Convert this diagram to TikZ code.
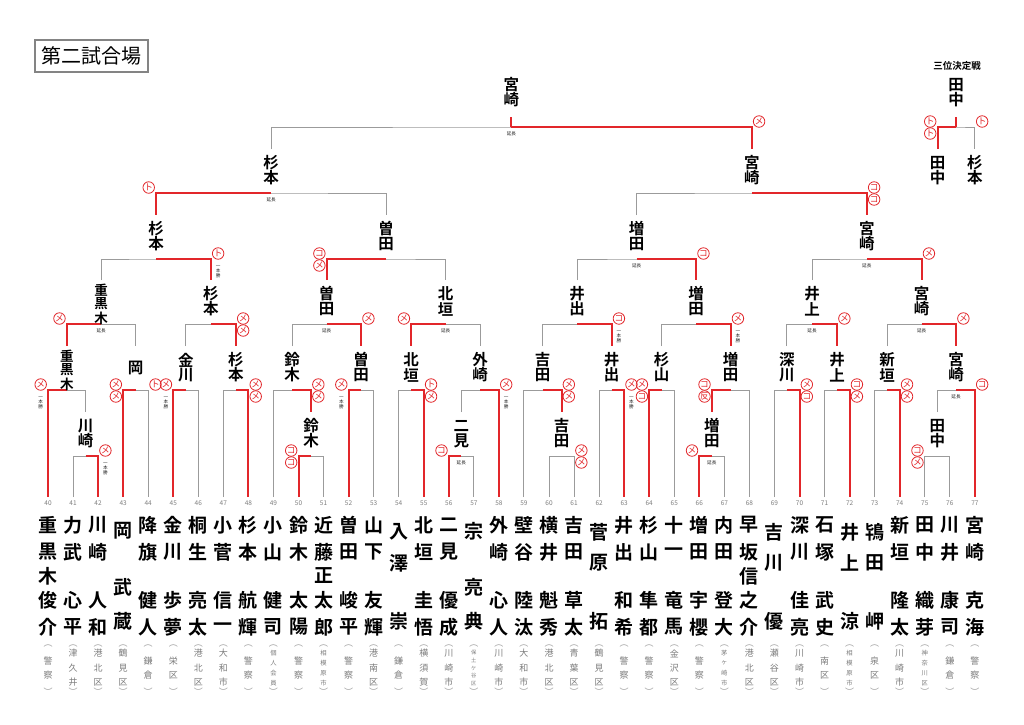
\documentclass[tikz,border=0pt]{standalone}
\usepackage{fontspec}
\newfontfamily\jp[BoldFont={Noto Sans CJK JP Bold}]{Noto Sans CJK JP}
\usetikzlibrary{calc}
\definecolor{rd}{RGB}{226,38,42}
\definecolor{lg}{RGB}{155,155,155}
\definecolor{tg}{RGB}{125,125,125}
\newcommand\setX[2]{\expandafter\xdef\csname vX#1\endcsname{#2}}
\newcommand\getX[1]{\csname vX#1\endcsname}
\newcommand\setT[2]{\expandafter\xdef\csname vT#1\endcsname{#2}}
\newcommand\getT[1]{\csname vT#1\endcsname}
\newcommand\setH[2]{\expandafter\xdef\csname vH#1\endcsname{#2}}
\newcommand\getH[1]{\csname vH#1\endcsname}
\tikzset{
 gline/.style={draw=lg, line width=1pt},
 rline/.style={draw=rd, line width=2pt},
 mk/.style={circle, draw=rd, line width=0.8pt, inner sep=0pt, minimum size=11.5pt, text=rd, font=\jp\fontsize{8.6}{8.6}\selectfont},
 bname/.style={inner sep=0pt, font=\jp\bfseries\fontsize{15.5}{15.5}\selectfont},
 bnamet/.style={inner sep=0pt, font=\jp\bfseries\fontsize{13.5}{13.5}\selectfont},
 lname/.style={inner sep=0pt, font=\jp\bfseries\fontsize{19}{19}\selectfont},
 num/.style={inner sep=0pt, text=tg, font=\jp\fontsize{6.5}{6.5}\selectfont},
 tinyt/.style={inner sep=0pt, text=black!85, font=\jp\fontsize{4.6}{4.6}\selectfont},
 affp/.style={inner sep=0pt, text=lg, font=\jp\fontsize{9}{9}\selectfont},
}
% match: id, left child, right child, y of horizontal, winner side
\newcommand\M[5]{%
  \pgfmathsetmacro\mmC{(\getX{#2}+\getX{#3})/2}%
  \pgfmathsetmacro\mmT{#4-44}%
  \setX{#1}{\mmC}\setH{#1}{#4}\setT{#1}{\mmT}%
  \coordinate (#1) at (\mmC,#4);
  \coordinate (top-#1) at (\mmC,\mmT);
  \draw[gline] (top-#2) |- (#1) -| (top-#3);
  \if L#5\draw[rline] (#1) -| (top-#2);\fi
  \if R#5\draw[rline] (#1) -| (top-#3);\fi
}
\newcommand\bnI[2]{\node[bname] (w#1a) at (\getX{#1},{\getH{#1}-22}) {#2};}
\newcommand\bnII[3]{\node[bname] (w#1a) at (\getX{#1},{\getH{#1}-30}) {#2};
  \node[bname] (w#1b) at (\getX{#1},{\getH{#1}-15}) {#3};}
\newcommand\bnIII[4]{\node[bnamet] (w#1a) at (\getX{#1},{\getH{#1}-34}) {#2};
  \node[bnamet] (w#1b) at (\getX{#1},{\getH{#1}-20}) {#3};
  \node[bnamet] (w#1c) at (\getX{#1},{\getH{#1}-6}) {#4};}
\newcommand\mkA[4]{\node[mk] at ({\getX{#2}+(#3)*7.3},{\getH{#1}-5.5}) {#4};}
\newcommand\mkB[5]{\node[mk] at ({\getX{#2}+(#3)*7.3},{\getH{#1}-5.5}) {#4};
  \node[mk] at ({\getX{#2}+(#3)*7.3},{\getH{#1}+6.5}) {#5};}
\newcommand\ipn[3]{\foreach \c [count=\k from 0] in {一,本,勝}{\node[tinyt] at ({\getX{#2}+(#3)*7.3},{\getH{#1}+7+\k*4.8}) {\c};}}
\newcommand\enc[1]{\node[tinyt] (en#1) at (\getX{#1},{\getH{#1}+6.5}) {延長};}
\newcommand\lnm[2]{\foreach \c/\y [count=\k] in {#2}{\node[lname] (ln#1-\k) at (\getX{#1},\y) {\c};}}
\newcommand\lA[5]{\lnm{#1}{#2/525,#3/552,#4/600,#5/627}}
\newcommand\lF[6]{\lnm{#1}{#2/525,#3/552,#4/576,#5/600,#6/627}}
\newcommand\lC[4]{\lnm{#1}{#2/532,#3/563,#4/621}}
\newcommand\lD[4]{\lnm{#1}{#2/531,#3/587,#4/621}}
\newcommand\aff[3]{%
  \ifnum#2<4 \def\afs{14.5}\def\aft{9}\else\ifnum#2=4 \def\afs{10}\def\aft{6.3}\else\def\afs{7.6}\def\aft{5.3}\fi\fi
  \node[affp] (ap#1) at (\getX{#1},646) {︵};
  \node[affp] (aq#1) at (\getX{#1},692) {︶};
  \foreach \c [count=\k from 0] in {#3}{\node[inner sep=0pt,text=tg,font=\jp\fontsize{\aft}{\aft}\selectfont] at (\getX{#1},{668-(#2-1)*\afs/2+\k*\afs}) {\c};}
}
\begin{document}
\begin{tikzpicture}[x=1pt,y=-1pt]
\fill[white] (0,0) rectangle (1024,724);
\useasboundingbox (0,0) rectangle (1024,724);
% title
\node[draw=lg!85!black, line width=1.6pt, minimum width=113pt, minimum height=32pt, inner sep=0pt, font=\jp\fontsize{20}{20}\selectfont] (title) at (91.5,56) {第二試合場};
\node[inner sep=0pt, font=\jp\bfseries\fontsize{9.5}{9.5}\selectfont] (third) at (957,66) {三位決定戦};
% leaves
\foreach \i in {40,...,77}{%
  \pgfmathsetmacro\lx{48+25.05*(\i-40)}%
  \setX{\i}{\lx}\setT{\i}{497}%
  \coordinate (top-\i) at (\lx,497);
  \node[num] (num\i) at (\lx,503) {\i};
}
% matches
\M{Ma}{41}{42}{456}{R}
\M{Mb}{40}{Ma}{390}{L}
\M{Mc}{43}{44}{390}{L}
\M{Md}{Mb}{Mc}{324}{L}
\M{Me}{45}{46}{390}{L}
\M{Mf}{47}{48}{390}{R}
\M{Mg}{Me}{Mf}{324}{R}
\M{Mh}{Md}{Mg}{259}{R}
\M{Mi}{50}{51}{456}{L}
\M{Mj}{49}{Mi}{390}{R}
\M{Mk}{52}{53}{390}{L}
\M{Ml}{Mj}{Mk}{324}{R}
\M{Mm}{54}{55}{390}{R}
\M{Mn}{56}{57}{456}{L}
\M{Mo}{Mn}{58}{390}{R}
\M{Mp}{Mm}{Mo}{324}{L}
\M{Mq}{Ml}{Mp}{259}{L}
\M{Mr}{Mh}{Mq}{193}{L}
\M{Na}{60}{61}{456}{N}
\M{Nb}{59}{Na}{390}{R}
\M{Nc}{62}{63}{390}{R}
\M{Nd}{Nb}{Nc}{324}{R}
\M{Ne}{64}{65}{390}{L}
\M{Nf}{66}{67}{456}{L}
\M{Ng}{Nf}{68}{390}{L}
\M{Nh}{Ne}{Ng}{324}{R}
\M{Ni}{Nd}{Nh}{259}{R}
\M{Nj}{69}{70}{390}{R}
\M{Nk}{71}{72}{390}{R}
\M{Nl}{Nj}{Nk}{324}{R}
\M{Nm}{73}{74}{390}{R}
\M{Nn}{75}{76}{456}{N}
\M{No}{Nn}{77}{390}{R}
\M{Np}{Nm}{No}{324}{R}
\M{Nq}{Nl}{Np}{259}{R}
\M{Ns}{Ni}{Nq}{193}{R}
\M{F}{Mr}{Ns}{127}{R}
\draw[rline] (F) -- ++(0,-10);
\node[bname] (fa) at (\getX{F},85) {宮};
\node[bname] (fb) at (\getX{F},100) {崎};
% third place
\setX{T1}{937.5}\setT{T1}{149}\coordinate (top-T1) at (937.5,149);
\setX{T2}{974.85}\setT{T2}{149}\coordinate (top-T2) at (974.85,149);
\M{T}{T1}{T2}{127}{L}
\draw[rline] (T) -- ++(0,-10);
\node[bname] (ta) at (\getX{T},85) {田};
\node[bname] (tb) at (\getX{T},100) {中};
\node[bname] (t1a) at (937.5,163) {田};
\node[bname] (t1b) at (937.5,178) {中};
\node[bname] (t2a) at (974.85,163) {杉};
\node[bname] (t2b) at (974.85,178) {本};
% bracket names
\bnII{Ma}{川}{崎}
\bnIII{Mb}{重}{黒}{木}
\bnI{Mc}{岡}
\bnIII{Md}{重}{黒}{木}
\bnII{Me}{金}{川}
\bnII{Mf}{杉}{本}
\bnII{Mg}{杉}{本}
\bnII{Mh}{杉}{本}
\bnII{Mi}{鈴}{木}
\bnII{Mj}{鈴}{木}
\bnII{Mk}{曽}{田}
\bnII{Ml}{曽}{田}
\bnII{Mm}{北}{垣}
\bnII{Mn}{二}{見}
\bnII{Mo}{外}{崎}
\bnII{Mp}{北}{垣}
\bnII{Mq}{曽}{田}
\bnII{Mr}{杉}{本}
\bnII{Na}{吉}{田}
\bnII{Nb}{吉}{田}
\bnII{Nc}{井}{出}
\bnII{Nd}{井}{出}
\bnII{Ne}{杉}{山}
\bnII{Nf}{増}{田}
\bnII{Ng}{増}{田}
\bnII{Nh}{増}{田}
\bnII{Ni}{増}{田}
\bnII{Nj}{深}{川}
\bnII{Nk}{井}{上}
\bnII{Nl}{井}{上}
\bnII{Nm}{新}{垣}
\bnII{Nn}{田}{中}
\bnII{No}{宮}{崎}
\bnII{Np}{宮}{崎}
\bnII{Nq}{宮}{崎}
\bnII{Ns}{宮}{崎}
% marks and notes
\mkA{Ma}{42}{1}{メ}\ipn{Ma}{42}{1}
\mkA{Mb}{40}{-1}{メ}\ipn{Mb}{40}{-1}
\mkB{Mc}{43}{-1}{メ}{メ}\mkA{Mc}{44}{1}{ト}
\mkA{Md}{Mb}{-1}{メ}\enc{Md}
\mkA{Me}{45}{-1}{メ}\ipn{Me}{45}{-1}
\mkB{Mf}{48}{1}{メ}{メ}
\mkB{Mg}{Mf}{1}{メ}{メ}
\mkA{Mh}{Mg}{1}{ト}\ipn{Mh}{Mg}{1}
\mkB{Mi}{50}{-1}{コ}{コ}
\mkB{Mj}{Mi}{1}{メ}{メ}
\mkA{Mk}{52}{-1}{メ}\ipn{Mk}{52}{-1}
\mkA{Ml}{Mk}{1}{メ}\enc{Ml}
\mkB{Mm}{55}{1}{ト}{メ}
\mkA{Mn}{56}{-1}{コ}\enc{Mn}
\mkA{Mo}{58}{1}{メ}\ipn{Mo}{58}{1}
\mkA{Mp}{Mm}{-1}{メ}\enc{Mp}
\mkB{Mq}{Ml}{-1}{コ}{メ}
\mkA{Mr}{Mh}{-1}{ト}\enc{Mr}
\mkB{Na}{61}{1}{メ}{メ}
\mkB{Nb}{Na}{1}{メ}{メ}
\mkA{Nc}{63}{1}{メ}\ipn{Nc}{63}{1}
\mkA{Nd}{Nc}{1}{コ}\ipn{Nd}{Nc}{1}
\mkB{Ne}{64}{-1}{メ}{コ}
\mkA{Nf}{66}{-1}{メ}\enc{Nf}
\mkB{Ng}{Nf}{-1}{コ}{反}
\mkA{Nh}{Ng}{1}{メ}\ipn{Nh}{Ng}{1}
\mkA{Ni}{Nh}{1}{コ}\enc{Ni}
\mkB{Nj}{70}{1}{メ}{コ}
\mkB{Nk}{72}{1}{コ}{メ}
\mkA{Nl}{Nk}{1}{メ}\enc{Nl}
\mkB{Nm}{74}{1}{メ}{メ}
\mkB{Nn}{75}{-1}{コ}{メ}
\mkA{No}{77}{1}{コ}\enc{No}
\mkA{Np}{No}{1}{メ}\enc{Np}
\mkA{Nq}{Np}{1}{メ}\enc{Nq}
\mkB{Ns}{Nq}{1}{コ}{コ}
\mkA{F}{Ns}{1}{メ}\enc{F}
\mkB{T}{T1}{-1}{ト}{ト}\mkA{T}{T2}{1}{ト}
% leaf names
\lF{40}{重}{黒}{木}{俊}{介}
\lA{41}{力}{武}{心}{平}
\lA{42}{川}{崎}{人}{和}
\lD{43}{岡}{武}{蔵}
\lA{44}{降}{旗}{健}{人}
\lA{45}{金}{川}{歩}{夢}
\lA{46}{桐}{生}{亮}{太}
\lA{47}{小}{菅}{信}{一}
\lA{48}{杉}{本}{航}{輝}
\lA{49}{小}{山}{健}{司}
\lA{50}{鈴}{木}{太}{陽}
\lF{51}{近}{藤}{正}{太}{郎}
\lA{52}{曽}{田}{峻}{平}
\lA{53}{山}{下}{友}{輝}
\lC{54}{入}{澤}{崇}
\lA{55}{北}{垣}{圭}{悟}
\lA{56}{二}{見}{優}{成}
\lD{57}{宗}{亮}{典}
\lA{58}{外}{崎}{心}{人}
\lA{59}{壁}{谷}{陸}{汰}
\lA{60}{横}{井}{魁}{秀}
\lA{61}{吉}{田}{草}{太}
\lC{62}{菅}{原}{拓}
\lA{63}{井}{出}{和}{希}
\lA{64}{杉}{山}{隼}{都}
\lA{65}{十}{一}{竜}{馬}
\lA{66}{増}{田}{宇}{櫻}
\lA{67}{内}{田}{登}{大}
\lF{68}{早}{坂}{信}{之}{介}
\lC{69}{吉}{川}{優}
\lA{70}{深}{川}{佳}{亮}
\lA{71}{石}{塚}{武}{史}
\lC{72}{井}{上}{涼}
\lC{73}{鴇}{田}{岬}
\lA{74}{新}{垣}{隆}{太}
\lA{75}{田}{中}{織}{芽}
\lA{76}{川}{井}{康}{司}
\lA{77}{宮}{崎}{克}{海}
% affiliations
\aff{40}{2}{警,察}
\aff{41}{3}{津,久,井}
\aff{42}{3}{港,北,区}
\aff{43}{3}{鶴,見,区}
\aff{44}{2}{鎌,倉}
\aff{45}{2}{栄,区}
\aff{46}{3}{港,北,区}
\aff{47}{3}{大,和,市}
\aff{48}{2}{警,察}
\aff{49}{4}{個,人,会,員}
\aff{50}{2}{警,察}
\aff{51}{4}{相,模,原,市}
\aff{52}{2}{警,察}
\aff{53}{3}{港,南,区}
\aff{54}{2}{鎌,倉}
\aff{55}{3}{横,須,賀}
\aff{56}{3}{川,崎,市}
\aff{57}{5}{保,土,ケ,谷,区}
\aff{58}{3}{川,崎,市}
\aff{59}{3}{大,和,市}
\aff{60}{3}{港,北,区}
\aff{61}{3}{青,葉,区}
\aff{62}{3}{鶴,見,区}
\aff{63}{2}{警,察}
\aff{64}{2}{警,察}
\aff{65}{3}{金,沢,区}
\aff{66}{2}{警,察}
\aff{67}{4}{茅,ヶ,崎,市}
\aff{68}{3}{港,北,区}
\aff{69}{3}{瀬,谷,区}
\aff{70}{3}{川,崎,市}
\aff{71}{2}{南,区}
\aff{72}{4}{相,模,原,市}
\aff{73}{2}{泉,区}
\aff{74}{3}{川,崎,市}
\aff{75}{4}{神,奈,川,区}
\aff{76}{2}{鎌,倉}
\aff{77}{2}{警,察}
\end{tikzpicture}
\end{document}
